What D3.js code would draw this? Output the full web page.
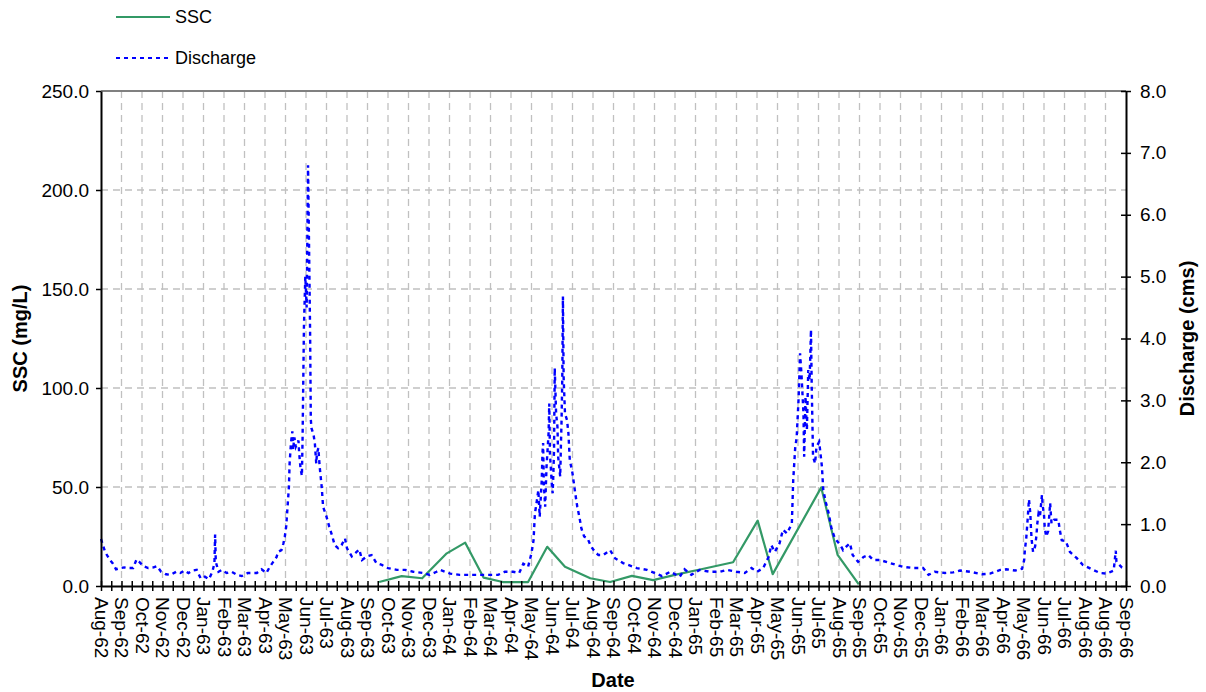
<!DOCTYPE html>
<html>
<head>
<meta charset="utf-8">
<script src="https://cdn.jsdelivr.net/npm/d3@7"></script>
<style>
  html, body { margin: 0; padding: 0; background: #fff; }
  svg { display: block; font-family: "Liberation Sans", Arial, sans-serif; }
</style>
</head>
<body>
<svg id="chart" width="1206" height="692"></svg>
<script>
// ---- data -------------------------------------------------------------
// Day numbers are counted from the first day of the record.
const recordStart = "1962-08-22";
const recordLengthDays = 1500;
const majorStepDays = 30;
const minorStepDays = 15;

// Suspended sediment concentration samples (mg/L)
const sscDay = [407, 440, 470, 506, 533, 560, 588, 625, 653, 679, 716, 745, 777, 808, 843, 880, 925, 961, 983, 1054, 1078, 1109];
const sscMgL = [2.0, 5.0, 3.9, 16.5, 21.9, 4.2, 2.0, 2.0, 19.8, 9.7, 3.9, 2.0, 5.1, 3.0, 5.9, 8.6, 12.0, 33.0, 6.0, 49.8, 15.7, 0.8];

// Discharge record (cms)
const dischargeDay = [
  0, 6, 13, 17, 22, 28, 34, 40, 47, 52, 56, 62, 69, 77, 82, 88, 95, 102, 110, 116,
  122, 128, 134, 140, 146, 152, 158, 163, 166, 167, 168, 172, 177, 184, 191, 199, 206, 215, 221, 228,
  235, 242, 247, 252, 257, 259, 264, 267, 269, 271, 273, 275, 276, 278, 280, 281, 283, 285, 287, 289,
  290, 292, 294, 295, 296, 297, 299, 301, 303, 306, 307, 308, 311, 313, 315, 316, 318, 320, 323, 325,
  330, 334, 338, 342, 347, 352, 357, 360, 367, 374, 378, 382, 389, 396, 403, 411, 420, 433, 445, 457,
  472, 481, 491, 496, 511, 525, 540, 555, 569, 581, 591, 603, 612, 618, 625, 630, 633, 634, 635, 638,
  640, 642, 645, 646, 647, 648, 650, 652, 655, 656, 657, 660, 661, 662, 663, 664, 666, 668, 669, 672,
  673, 674, 675, 676, 677, 679, 682, 684, 686, 690, 694, 697, 700, 703, 707, 712, 717, 723, 728, 735,
  745, 752, 764, 784, 799, 813, 821, 833, 847, 854, 864, 876, 891, 906, 916, 930, 942, 952, 960, 969,
  977, 981, 986, 993, 998, 1004, 1011, 1013, 1016, 1018, 1021, 1023, 1025, 1028, 1029, 1031, 1033, 1035, 1037, 1039,
  1040, 1042, 1045, 1047, 1051, 1055, 1057, 1061, 1065, 1069, 1074, 1082, 1086, 1091, 1096, 1100, 1108, 1116, 1123, 1130,
  1140, 1152, 1164, 1174, 1189, 1203, 1211, 1220, 1235, 1247, 1257, 1272, 1289, 1301, 1316, 1325, 1338, 1348, 1351, 1352,
  1354, 1356, 1358, 1360, 1361, 1362, 1364, 1367, 1369, 1370, 1372, 1374, 1377, 1378, 1380, 1381, 1383, 1386, 1389, 1390,
  1391, 1395, 1401, 1403, 1406, 1412, 1418, 1428, 1437, 1450, 1462, 1472, 1482, 1485, 1486, 1494, 1499
];
const dischargeCms = [
  0.76, 0.55, 0.42, 0.37, 0.27, 0.29, 0.30, 0.29, 0.29, 0.43, 0.39, 0.32, 0.29, 0.30, 0.32, 0.23, 0.19, 0.18, 0.23, 0.21,
  0.25, 0.21, 0.25, 0.26, 0.12, 0.15, 0.11, 0.23, 0.37, 0.83, 0.39, 0.23, 0.26, 0.21, 0.23, 0.18, 0.16, 0.21, 0.21, 0.21,
  0.27, 0.21, 0.31, 0.39, 0.47, 0.55, 0.58, 0.69, 0.80, 0.96, 1.28, 1.60, 1.98, 2.31, 2.50, 2.20, 2.40, 2.25, 2.30, 2.35,
  2.15, 1.90, 1.78, 2.40, 3.30, 4.20, 5.00, 4.50, 6.80, 4.10, 2.70, 2.55, 2.45, 2.30, 1.98, 2.14, 2.23, 1.93, 1.60, 1.28,
  1.12, 0.96, 0.82, 0.66, 0.61, 0.66, 0.77, 0.61, 0.48, 0.55, 0.59, 0.42, 0.48, 0.50, 0.37, 0.34, 0.29, 0.26, 0.26, 0.23,
  0.21, 0.18, 0.23, 0.26, 0.20, 0.18, 0.18, 0.18, 0.18, 0.18, 0.23, 0.23, 0.21, 0.36, 0.31, 0.53, 0.74, 0.96, 1.17, 1.39,
  1.55, 1.12, 1.71, 2.14, 2.31, 1.66, 1.28, 1.93, 2.47, 2.95, 2.14, 1.60, 1.50, 1.82, 2.20, 3.52, 2.79, 2.57, 2.09, 1.77,
  2.25, 2.68, 3.33, 4.68, 3.38, 2.79, 2.68, 2.47, 2.04, 1.82, 1.50, 1.28, 1.12, 0.93, 0.80, 0.77, 0.64, 0.55, 0.50, 0.50,
  0.58, 0.45, 0.37, 0.29, 0.26, 0.20, 0.16, 0.23, 0.15, 0.27, 0.18, 0.26, 0.23, 0.23, 0.26, 0.23, 0.21, 0.29, 0.23, 0.29,
  0.47, 0.66, 0.55, 0.69, 0.91, 0.85, 1.01, 1.71, 2.25, 2.39, 3.06, 3.76, 3.44, 2.79, 2.09, 3.06, 2.52, 3.49, 3.33, 4.14,
  3.28, 2.09, 1.98, 2.25, 2.33, 1.93, 1.55, 1.34, 1.17, 0.93, 0.77, 0.66, 0.58, 0.64, 0.69, 0.50, 0.39, 0.47, 0.50, 0.42,
  0.42, 0.38, 0.34, 0.31, 0.29, 0.29, 0.18, 0.23, 0.21, 0.22, 0.25, 0.23, 0.19, 0.20, 0.26, 0.27, 0.25, 0.28, 0.42, 0.58,
  0.77, 1.07, 1.40, 1.17, 0.91, 0.74, 0.55, 0.64, 0.82, 0.99, 1.17, 1.12, 1.47, 1.31, 1.15, 0.96, 0.80, 0.88, 1.34, 1.17,
  1.01, 1.07, 1.07, 0.91, 0.74, 0.72, 0.55, 0.45, 0.34, 0.27, 0.21, 0.20, 0.25, 0.57, 0.39, 0.30, 0.27
];

const sscTicks = [0, 50, 100, 150, 200, 250];
const dischargeTicks = [0, 1, 2, 3, 4, 5, 6, 7, 8];
const seriesNames = ["SSC", "Discharge"];
const axisTitles = { left: "SSC (mg/L)", right: "Discharge (cms)", bottom: "Date" };

// ---- layout -----------------------------------------------------------
const plot = { left: 101, right: 1126, top: 91, bottom: 586 };
const sscColor = "#339966";
const dischargeColor = "#0000ff";
const gridColor = "#c0c0c0";
const dischargeDash = "4,4";

const svg = d3.select("#chart");
const t0 = d3.utcParse("%Y-%m-%d")(recordStart);
const dayToDate = d => d3.utcDay.offset(t0, d);

const x = d3.scaleUtc()
  .domain([t0, dayToDate(recordLengthDays)])
  .range([plot.left, plot.right]);
const ySSC = d3.scaleLinear().domain([0, 250]).range([plot.bottom, plot.top]);
const yQ = d3.scaleLinear().domain([0, 8]).range([plot.bottom, plot.top]);

const majorDates = d3.range(0, recordLengthDays + 1, majorStepDays).map(dayToDate);
const minorDates = d3.range(0, recordLengthDays + 1, minorStepDays).map(dayToDate);

// ---- gridlines --------------------------------------------------------
const grid = svg.append("g")
  .attr("stroke", gridColor)
  .attr("stroke-width", 1.3)
  .attr("stroke-dasharray", "7,5");
grid.selectAll("line.h")
  .data(sscTicks.filter(v => v > 0 && v < 250))
  .join("line")
  .attr("class", "h")
  .attr("x1", plot.left).attr("x2", plot.right)
  .attr("y1", d => ySSC(d)).attr("y2", d => ySSC(d));
grid.selectAll("line.v")
  .data(majorDates.slice(1, -1))
  .join("line")
  .attr("class", "v")
  .attr("x1", d => x(d)).attr("x2", d => x(d))
  .attr("y1", plot.top).attr("y2", plot.bottom);

// top border of the plot area
svg.append("line")
  .attr("x1", plot.left).attr("x2", plot.right)
  .attr("y1", plot.top).attr("y2", plot.top)
  .attr("stroke", "#808080").attr("stroke-width", 2);

// ---- series -----------------------------------------------------------
const sscData = sscDay.map((d, i) => ({ date: dayToDate(d), v: sscMgL[i] }));
const dischargeData = dischargeDay.map((d, i) => ({ date: dayToDate(d), v: dischargeCms[i] }));

svg.append("path")
  .datum(sscData)
  .attr("fill", "none")
  .attr("stroke", sscColor)
  .attr("stroke-width", 2.2)
  .attr("stroke-linejoin", "round")
  .attr("d", d3.line().x(d => x(d.date)).y(d => ySSC(d.v)));

svg.append("path")
  .datum(dischargeData)
  .attr("fill", "none")
  .attr("stroke", dischargeColor)
  .attr("stroke-width", 2.4)
  .attr("stroke-dasharray", dischargeDash)
  .attr("d", d3.line().x(d => x(d.date)).y(d => yQ(d.v)));

// ---- axes -------------------------------------------------------------
const tickFont = 19;
const fmt1 = d3.format(".1f");

// left axis
const leftAxis = svg.append("g")
  .attr("transform", `translate(${plot.left},0)`)
  .call(d3.axisLeft(ySSC).tickValues(sscTicks).tickFormat(fmt1).tickSize(5).tickSizeOuter(0).tickPadding(7));
leftAxis.select(".domain").attr("stroke", "#000").attr("stroke-width", 2);
leftAxis.selectAll(".tick line").attr("stroke", "#000").attr("stroke-width", 1.5);
leftAxis.selectAll(".tick text")
  .attr("font-size", tickFont).attr("fill", "#000")
  .attr("font-family", "Liberation Sans, Arial, sans-serif");

// right axis (ticks cross the axis line)
const rightAxis = svg.append("g")
  .attr("transform", `translate(${plot.right},0)`)
  .call(d3.axisRight(yQ).tickValues(dischargeTicks).tickFormat(fmt1).tickSize(5).tickSizeOuter(0).tickPadding(9));
rightAxis.select(".domain").attr("stroke", "#000").attr("stroke-width", 2);
rightAxis.selectAll(".tick line").attr("x1", -5).attr("x2", 5).attr("stroke", "#000").attr("stroke-width", 1.5);
rightAxis.selectAll(".tick text")
  .attr("font-size", tickFont).attr("fill", "#000")
  .attr("font-family", "Liberation Sans, Arial, sans-serif");

// bottom axis: minor ticks every 15 days, crossing the line
const minorAxis = svg.append("g")
  .attr("transform", `translate(0,${plot.bottom})`)
  .call(d3.axisBottom(x).tickValues(minorDates).tickFormat("").tickSize(5).tickSizeOuter(0));
minorAxis.select(".domain").attr("stroke", "#000").attr("stroke-width", 2);
minorAxis.selectAll(".tick line").attr("y1", -5).attr("y2", 5).attr("stroke", "#000").attr("stroke-width", 1.5);

// bottom axis labels every 30 days, turned to read downward
const labelAxis = svg.append("g")
  .attr("transform", `translate(0,${plot.bottom})`)
  .call(d3.axisBottom(x).tickValues(majorDates).tickFormat(d3.utcFormat("%b-%y")).tickSize(0).tickSizeOuter(0));
labelAxis.select(".domain").remove();
labelAxis.selectAll(".tick text")
  .attr("font-size", tickFont).attr("fill", "#000")
  .attr("font-family", "Liberation Sans, Arial, sans-serif")
  .attr("text-anchor", "start")
  .attr("transform", "rotate(90)")
  .attr("x", 11).attr("y", 0).attr("dy", "0.35em");

// ---- axis titles ------------------------------------------------------
const titleStyle = sel => sel
  .attr("font-size", 20).attr("font-weight", "bold").attr("fill", "#000")
  .attr("text-anchor", "middle");

svg.append("text").call(titleStyle)
  .attr("transform", `translate(27,${(plot.top + plot.bottom) / 2}) rotate(-90)`)
  .text(axisTitles.left);
svg.append("text").call(titleStyle)
  .attr("transform", `translate(1194,${(plot.top + plot.bottom) / 2}) rotate(-90)`)
  .text(axisTitles.right);
svg.append("text").call(titleStyle)
  .attr("x", 613).attr("y", 687)
  .text(axisTitles.bottom);

// ---- legend -----------------------------------------------------------
const legend = svg.append("g");
const legendRows = [
  { name: seriesNames[0], y: 17, color: sscColor, dash: null },
  { name: seriesNames[1], y: 58, color: dischargeColor, dash: dischargeDash }
];
legendRows.forEach(r => {
  legend.append("line")
    .attr("x1", 116).attr("x2", 170).attr("y1", r.y).attr("y2", r.y)
    .attr("stroke", r.color).attr("stroke-width", 2.2)
    .attr("stroke-dasharray", r.dash);
  legend.append("text")
    .attr("x", 175).attr("y", r.y).attr("dy", "0.36em")
    .attr("font-size", 18).attr("fill", "#000")
    .text(r.name);
});
</script>
</body>
</html>
